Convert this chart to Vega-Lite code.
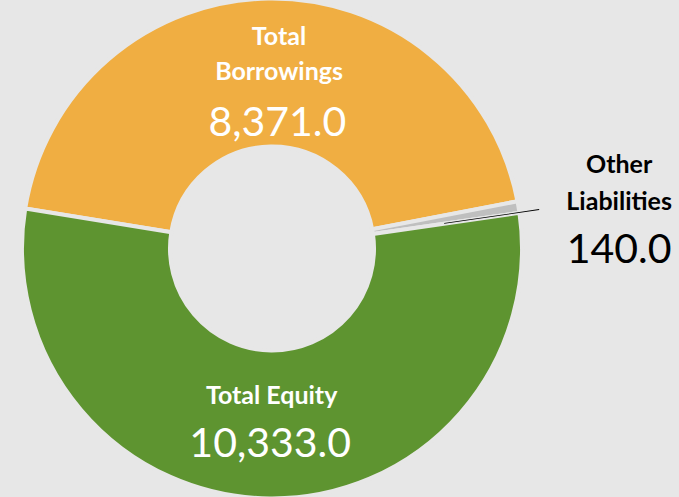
{
  "$schema": "https://vega.github.io/schema/vega-lite/v6.json",
  "width": 544,
  "height": 497,
  "autosize": {"type": "none"},
  "padding": {"left": 0, "top": 0, "right": 135, "bottom": 0},
  "background": "#E7E7E7",
  "config": {"view": {"stroke": null}, "text": {"font": "Lato"}},
  "data": {"values": [
    {"category": "Total Borrowings", "label": "Total\nBorrowings", "value": 8371, "ord": 1},
    {"category": "Other Liabilities", "label": "Other\nLiabilities", "value": 140, "ord": 2},
    {"category": "Total Equity", "label": "Total Equity", "value": 10333, "ord": 3}
  ]},
  "layer": [
    {
      "mark": {"type": "arc", "outerRadius": 250, "innerRadius": 102, "stroke": "#E7E7E7", "strokeWidth": 4},
      "encoding": {
        "theta": {"field": "value", "type": "quantitative", "stack": true, "scale": {"range": [-1.4102, 4.873]}},
        "order": {"field": "ord", "type": "quantitative", "sort": "ascending"},
        "color": {"field": "category", "type": "nominal", "legend": null,
          "scale": {"domain": ["Total Borrowings", "Other Liabilities", "Total Equity"], "range": ["#F0AE42", "#BFBFBF", "#5E9430"]}}
      }
    },
    {
      "transform": [
        {"window": [{"op": "sum", "field": "value", "as": "cum"}], "sort": [{"field": "ord"}], "frame": [null, 0]},
        {"filter": "datum.category === 'Other Liabilities'"},
        {"calculate": "datum.cum - 10", "as": "t1"}
      ],
      "mark": {"type": "arc", "innerRadius": 174, "outerRadius": 270, "color": "#000000"},
      "encoding": {
        "theta": {"field": "t1", "type": "quantitative"},
        "theta2": {"field": "cum"}
      }
    },
    {
      "mark": {"type": "text", "radius": 204, "dx": 10, "fontWeight": "bold", "fontSize": 25, "color": "#FFFFFF", "lineBreak": "\n", "lineHeight": 35, "align": "center", "baseline": "alphabetic"},
      "encoding": {
        "theta": {"field": "value", "type": "quantitative", "stack": true},
        "order": {"field": "ord", "type": "quantitative", "sort": "ascending"},
        "detail": {"field": "category"},
        "text": {"condition": {"test": "datum.category !== 'Total Borrowings'", "value": ""}, "field": "label", "type": "nominal"}
      }
    },
    {
      "mark": {"type": "text", "radius": 113, "dx": 7, "fontSize": 41, "color": "#FFFFFF", "align": "center", "baseline": "alphabetic"},
      "encoding": {
        "theta": {"field": "value", "type": "quantitative", "stack": true},
        "order": {"field": "ord", "type": "quantitative", "sort": "ascending"},
        "detail": {"field": "category"},
        "text": {"condition": {"test": "datum.category !== 'Total Borrowings'", "value": ""}, "field": "value", "type": "quantitative", "format": ",.1f"}
      }
    },
    {
      "mark": {"type": "text", "radius": 156, "dx": 1, "fontWeight": "bold", "fontSize": 25, "color": "#FFFFFF", "align": "center", "baseline": "alphabetic"},
      "encoding": {
        "theta": {"field": "value", "type": "quantitative", "stack": true},
        "order": {"field": "ord", "type": "quantitative", "sort": "ascending"},
        "detail": {"field": "category"},
        "text": {"condition": {"test": "datum.category !== 'Total Equity'", "value": ""}, "field": "label", "type": "nominal"}
      }
    },
    {
      "mark": {"type": "text", "radius": 209, "dx": 0, "fontSize": 41, "color": "#FFFFFF", "align": "center", "baseline": "alphabetic"},
      "encoding": {
        "theta": {"field": "value", "type": "quantitative", "stack": true},
        "order": {"field": "ord", "type": "quantitative", "sort": "ascending"},
        "detail": {"field": "category"},
        "text": {"condition": {"test": "datum.category !== 'Total Equity'", "value": ""}, "field": "value", "type": "quantitative", "format": ",.1f"}
      }
    },
    {
      "mark": {"type": "text", "radius": 352, "dy": -17, "fontWeight": "bold", "fontSize": 25, "color": "#000000", "lineBreak": "\n", "lineHeight": 37, "align": "center", "baseline": "alphabetic"},
      "encoding": {
        "theta": {"field": "value", "type": "quantitative", "stack": true},
        "order": {"field": "ord", "type": "quantitative", "sort": "ascending"},
        "detail": {"field": "category"},
        "text": {"condition": {"test": "datum.category !== 'Other Liabilities'", "value": ""}, "field": "label", "type": "nominal"}
      }
    },
    {
      "mark": {"type": "text", "radius": 352, "dy": 73, "fontSize": 41, "color": "#000000", "align": "center", "baseline": "alphabetic"},
      "encoding": {
        "theta": {"field": "value", "type": "quantitative", "stack": true},
        "order": {"field": "ord", "type": "quantitative", "sort": "ascending"},
        "detail": {"field": "category"},
        "text": {"condition": {"test": "datum.category !== 'Other Liabilities'", "value": ""}, "field": "value", "type": "quantitative", "format": ",.1f"}
      }
    }
  ]
}
